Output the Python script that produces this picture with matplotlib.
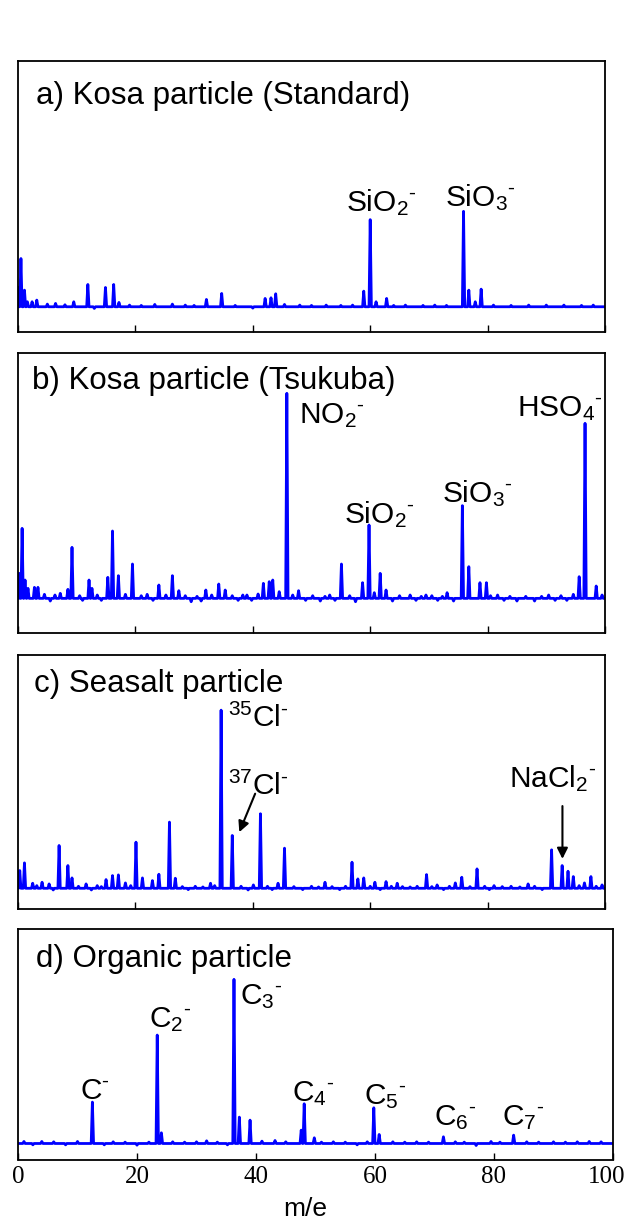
import numpy as np
import matplotlib
matplotlib.use('Agg')
import matplotlib.pyplot as plt
import matplotlib.transforms as mtransforms

plt.rcParams['font.family'] = ['Liberation Sans', 'DejaVu Sans']
plt.rcParams['mathtext.fontset'] = 'custom'
plt.rcParams['mathtext.rm'] = 'Liberation Sans'
plt.rcParams['mathtext.it'] = 'Liberation Sans:italic'
plt.rcParams['mathtext.bf'] = 'Liberation Sans:bold'

# peak lists: m/e and intensity above baseline (a.u.)
mz_a = [0.1, 0.5, 1.1, 1.6, 2.4, 3.2, 5.0, 6.4, 8.0, 9.5, 11.9, 13.0, 14.9, 16.3, 17.2,
        19.0, 21.0, 23.3, 26.3, 28.5, 30.0, 32.1, 34.7, 37.0, 40.0, 42.1, 43.1, 43.9,
        45.4, 48.0, 50.0, 52.5, 55.0, 57.0, 58.9, 60.0, 61.0, 62.8, 64.0, 66.0, 69.0,
        71.0, 73.0, 75.9, 76.8, 77.9, 78.9, 81.0, 84.0, 87.0, 90.0, 93.0, 96.0, 98.0]
int_a = [58, 145, 50, 15, 15, 20, 8, 10, 6, 15, 67, -5, 58, 67, 13,
         5, 4, 7, 8, 5, 4, 22, 40, 4, -4, 25, 27, 39,
         7, 5, 4, 5, 4, 5, 47, 262, 15, 25, 4, 5, 4,
         5, 4, 287, 50, 15, 53, 5, 4, 5, 5, 5, 4, 5]

mz_b = [0.2, 0.7, 1.2, 1.7, 2.8, 3.4, 4.5, 5.5, 6.3, 7.2, 8.5, 9.2, 10.5, 11.0, 12.1,
        12.6, 13.5, 14.2, 15.3, 16.1, 17.1, 18.3, 19.5, 21.0, 22.0, 23.0, 24.0, 25.2,
        26.3, 27.4, 28.5, 29.5, 30.5, 31.2, 32.0, 33.0, 34.2, 35.3, 36.5, 37.5, 38.3,
        39.0, 39.8, 40.9, 41.8, 42.8, 43.4, 44.5, 45.8, 46.8, 47.8, 49.0, 50.2, 51.5,
        52.3, 53.1, 54.0, 55.1, 56.5, 57.5, 58.7, 59.8, 60.7, 61.7, 62.7, 63.8, 65.0,
        66.8, 67.8, 68.7, 69.5, 70.5, 71.5, 72.3, 73.1, 74.2, 75.7, 76.8, 78.7, 79.8,
        80.5, 81.7, 82.8, 83.8, 85.0, 86.5, 88.0, 89.2, 90.4, 91.5, 92.5, 93.5, 94.6,
        95.6, 96.6, 98.5, 99.5]
int_b = [75, 210, 55, 30, 33, 33, 12, -8, 10, 15, 27, 153, 8, -6, 55,
         30, 10, -6, 63, 202, 68, 12, 103, 8, 12, -6, 40, 10,
         68, 23, 8, -10, 6, -8, 25, 10, 43, 25, 8, -6, 10,
         10, -6, 13, 45, 50, 55, 20, 615, 10, 23, -6, 8, -8,
         6, 10, -6, 103, 8, -10, 47, 220, 17, 75, 25, -8, 8,
         10, -6, 6, 10, 8, -6, 6, 17, -8, 278, 95, 47, 47,
         8, 10, -6, 6, -8, 6, -8, 6, 10, -6, 8, -6, 12,
         65, 525, 37, 10]

mz_c = [0.3, 1.1, 2.5, 3.2, 4.1, 5.3, 6.0, 7.0, 8.5, 9.2, 10.3, 11.6, 12.5, 13.5, 14.2,
        15.0, 16.1, 17.1, 18.3, 19.2, 20.1, 21.2, 22.9, 24.0, 25.8, 26.8, 28.0, 29.0,
        30.2, 31.5, 32.8, 33.5, 34.6, 36.5, 38.0, 39.2, 40.1, 41.3, 42.5, 43.3, 44.3,
        45.4, 47.0, 48.5, 50.0, 51.2, 52.3, 53.5, 54.8, 55.8, 56.9, 57.9, 58.9, 60.0,
        60.8, 61.7, 62.7, 63.6, 64.6, 65.5, 66.8, 68.0, 69.6, 70.5, 71.4, 72.5, 73.5,
        74.5, 75.6, 77.0, 78.2, 79.5, 80.3, 81.1, 82.5, 84.0, 85.5, 86.9, 88.0, 89.3,
        90.9, 92.7, 93.7, 94.6, 95.6, 96.5, 97.6, 98.5, 99.5]
int_c = [53, 76, 15, 8, 18, 13, -5, 128, 68, 31, 6, 13, -5, 8, 5,
         26, 38, 40, 16, 8, 138, 31, 23, 42, 198, 30, 5, -4,
         6, 4, 15, 8, 533, 158, 6, -5, 10, 223, 6, -4, 15,
         120, 5, -4, 6, 4, 18, 5, -4, 6, 78, 28, 31, 6,
         18, -4, 20, 6, 15, 5, 4, 6, 41, 5, 10, -4, 6,
         16, 33, 5, 58, 6, -4, 8, 5, 6, 4, 13, 6, -4,
         115, 68, 51, 35, 8, 16, 35, 6, 10]

mz_d = [1.0, 2.5, 4.0, 6.0, 8.0, 10.0, 12.5, 14.5, 16.0, 18.0, 20.0, 22.0, 23.4, 24.1,
        26.0, 28.0, 30.0, 31.7, 33.5, 35.2, 36.3, 37.2, 39.0, 41.0, 43.2, 45.0, 47.6,
        48.1, 49.8, 51.0, 53.0, 55.0, 57.0, 58.7, 59.8, 60.7, 63.0, 65.0, 67.0, 69.0,
        71.5, 73.5, 75.0, 77.0, 79.5, 81.0, 83.3, 85.5, 87.5, 90.0, 92.0, 94.0, 96.0, 98.0]
int_d = [6, -4, 6, 5, -4, 6, 124, -4, 5, 4, -5, 4, 325, 32,
         5, 4, 5, 8, 4, -4, 492, 79, 70, 7, 9, 5, 40,
         119, 17, 4, 5, 4, -4, 5, 107, 27, 5, 4, 5, 4,
         20, 5, 4, -6, 6, 4, 25, 5, 4, 5, 4, 5, 6, 5]

titles = ['a) Kosa particle (Standard)', 'b) Kosa particle (Tsukuba)',
          'c) Seasalt particle', 'd) Organic particle']

M = r'{}^{\text{-}}'
# ion labels: (text, m/e, intensity) anchor of the text baseline
labels_a = [(r'SiO$_2' + M + '$', 55.9, 288), (r'SiO$_3' + M + '$', 72.8, 302)]
labels_b = [(r'NO$_2' + M + '$', 47.8, 525), (r'SiO$_2' + M + '$', 55.6, 225),
            (r'SiO$_3' + M + '$', 72.2, 287), (r'HSO$_4' + M + '$', 85.0, 547)]
labels_c = [(r'$^{35}$Cl$' + M + '$', 35.8, 483), (r'$^{37}$Cl$' + M + '$', 35.8, 278),
            (r'NaCl$_2' + M + '$', 83.7, 303)]
labels_d = [(r'C$' + M + '$', 10.5, 132), (r'C$_2' + M + '$', 22.1, 349),
            (r'C$_3' + M + '$', 37.3, 417), (r'C$_4' + M + '$', 46.1, 127),
            (r'C$_5' + M + '$', 58.2, 117), (r'C$_6' + M + '$', 69.9, 55),
            (r'C$_7' + M + '$', 81.3, 55)]
# arrows in panel c: (tail m/e, tail int, head m/e, head int)
arrows_c = [(40.4, 283, 37.7, 168), (92.75, 246, 92.75, 88)]

xticks = [0, 20, 40, 60, 80, 100]


def trace(mz, inten, w=0.2):
    order = np.argsort(mz)
    xs, ys = [0.0], [0.0]
    for i in order:
        xs += [mz[i] - w, mz[i], mz[i] + w]
        ys += [0.0, inten[i], 0.0]
    xs.append(100.0)
    ys.append(0.0)
    return xs, ys


fig = plt.figure(figsize=(6.28, 12.26), dpi=100)
H = 1226.0
# panel boxes in pixels: left, right, top, bottom
boxes = [(18, 605, 60.7, 331.7), (18, 605, 353.3, 632.7),
         (18, 605, 655, 909), (18, 613, 929.3, 1159.5)]
ylims = [(-75, 740), (-103, 735), (-62, 698), (-48, 642)]
title_pos = [(0.030, 0.840), (0.0245, 0.872), (0.028, 0.855), (0.0296, 0.838)]
data = [(mz_a, int_a), (mz_b, int_b), (mz_c, int_c), (mz_d, int_d)]
labels = [labels_a, labels_b, labels_c, labels_d]

axes = []
for k, (l, r, t, b) in enumerate(boxes):
    ax = fig.add_axes([l / 628, 1 - b / H, (r - l) / 628, (b - t) / H])
    xs, ys = trace(*data[k])
    ax.plot(xs, ys, color='#0000ff', lw=2.0, solid_joinstyle='round')
    ax.set_xlim(0, 100)
    ax.set_ylim(*ylims[k])
    ax.set_yticks([])
    ax.set_xticks(xticks)
    ax.tick_params(axis='x', direction='in', length=5, width=1, top=False,
                   labelsize=18, pad=5)
    for sp in ax.spines.values():
        sp.set_linewidth(1.3)
    if k < 3:
        ax.set_xticklabels([])
    else:
        for tl in ax.get_xticklabels():
            tl.set_family('Liberation Serif')
        last = ax.get_xticklabels()[-1]
        last.set_transform(last.get_transform() +
                           mtransforms.ScaledTranslation(-0.06, 0, fig.dpi_scale_trans))
    ax.text(title_pos[k][0], title_pos[k][1], titles[k], transform=ax.transAxes,
            fontsize=22.5, va='baseline', ha='left')
    for txt, x, y in labels[k]:
        ax.text(x, y, txt, fontsize=21.5, va='baseline', ha='left')
    axes.append(ax)

for x0, y0, x1, y1 in arrows_c:
    axes[2].annotate('', xy=(x1, y1), xytext=(x0, y0),
                     arrowprops=dict(arrowstyle='-|>', color='k', lw=1.5,
                                     mutation_scale=16, shrinkA=0, shrinkB=0))

axes[3].text(0.482, -0.246, 'm/e', transform=axes[3].transAxes, fontsize=19,
             ha='center', va='baseline')

fig.savefig('out.png', dpi=100)
